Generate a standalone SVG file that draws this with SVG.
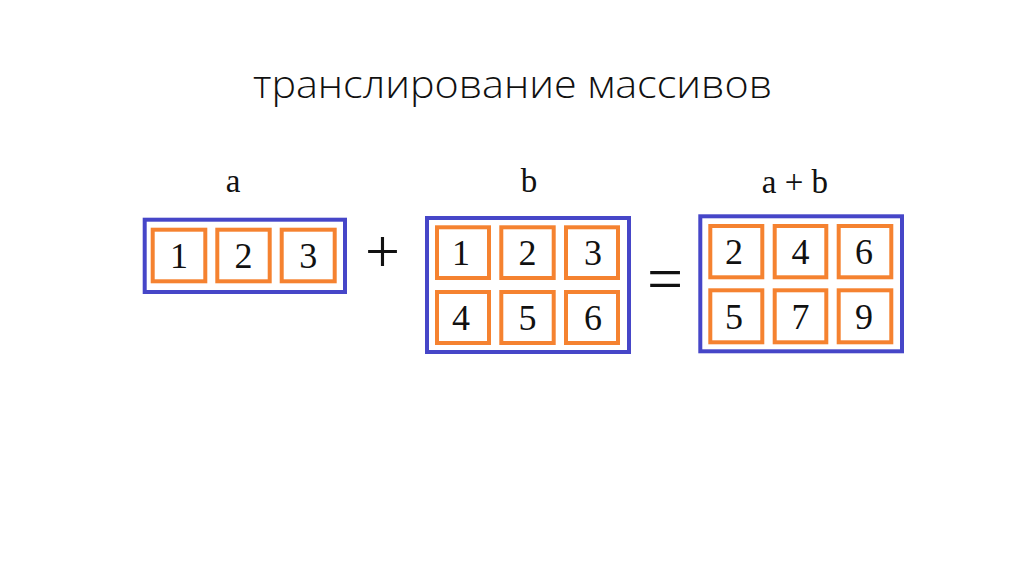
<svg xmlns="http://www.w3.org/2000/svg" width="1024" height="574" viewBox="0 0 1024 574">
<style>
.bg{fill:#ffffff}
.outer{fill:#ffffff;stroke:#4646c8;stroke-width:4}
.cell{fill:#ffffff;stroke:#f58230;stroke-width:4}
.num{font-family:"Liberation Serif","Times New Roman",serif;font-size:36px;fill:#111111;text-anchor:middle}
.lbl{font-family:"Liberation Serif","Times New Roman",serif;font-size:33px;fill:#111111;text-anchor:middle}
.op{font-family:"Liberation Serif","Times New Roman",serif;fill:#111111;text-anchor:middle}
.title{font-family:"Open Sans","Noto Sans","Liberation Sans",sans-serif;font-weight:300;font-size:39px;fill:#111111}
</style>
<rect class="bg" x="0" y="0" width="1024" height="574"/>
<text class="title" x="253" y="98" textLength="519" lengthAdjust="spacingAndGlyphs">транслирование массивов</text>

<g id="array-a">
  <text class="lbl" x="233" y="191.5">a</text>
  <rect class="outer" x="144.7" y="219.7" width="200.3" height="72.3"/>
  <rect class="cell" x="152.7" y="229.7" width="52.6" height="51.6"/>
  <rect class="cell" x="217.3" y="229.7" width="52.4" height="51.6"/>
  <rect class="cell" x="281.7" y="229.7" width="53" height="51.6"/>
  <text class="num" x="179" y="268">1</text>
  <text class="num" x="243.5" y="268">2</text>
  <text class="num" x="308.2" y="268">3</text>
</g>

<g id="plus">
  <text class="op" x="382.5" y="272" font-size="62">+</text>
</g>

<g id="array-b">
  <text class="lbl" x="529" y="191.5">b</text>
  <rect class="outer" x="427" y="218" width="202" height="134"/>
  <rect class="cell" x="437" y="227.3" width="52" height="50.7"/>
  <rect class="cell" x="501.3" y="227.3" width="52.4" height="50.7"/>
  <rect class="cell" x="566" y="227.3" width="52" height="50.7"/>
  <rect class="cell" x="437" y="292" width="52" height="51"/>
  <rect class="cell" x="501.3" y="292" width="52.4" height="51"/>
  <rect class="cell" x="566" y="292" width="52" height="51"/>
  <text class="num" x="461" y="265">1</text>
  <text class="num" x="527.5" y="265">2</text>
  <text class="num" x="593" y="265">3</text>
  <text class="num" x="461" y="330">4</text>
  <text class="num" x="527.5" y="330">5</text>
  <text class="num" x="593" y="330">6</text>
</g>

<g id="equals">
  <text class="op" x="665" y="300" font-size="64">=</text>
</g>

<g id="array-sum">
  <text class="lbl" x="795" y="193.3">a + b</text>
  <rect class="outer" x="700.3" y="216.3" width="201.7" height="135"/>
  <rect class="cell" x="710.3" y="226" width="52" height="51.3"/>
  <rect class="cell" x="774.7" y="226" width="51.6" height="51.3"/>
  <rect class="cell" x="838.7" y="226" width="52.6" height="51.3"/>
  <rect class="cell" x="710.3" y="290.3" width="52" height="52"/>
  <rect class="cell" x="774.7" y="290.3" width="51.6" height="52"/>
  <rect class="cell" x="838.7" y="290.3" width="52.6" height="52"/>
  <text class="num" x="734" y="264">2</text>
  <text class="num" x="800.5" y="264">4</text>
  <text class="num" x="864" y="264">6</text>
  <text class="num" x="734" y="329">5</text>
  <text class="num" x="800.5" y="329">7</text>
  <text class="num" x="864" y="329">9</text>
</g>
</svg>
